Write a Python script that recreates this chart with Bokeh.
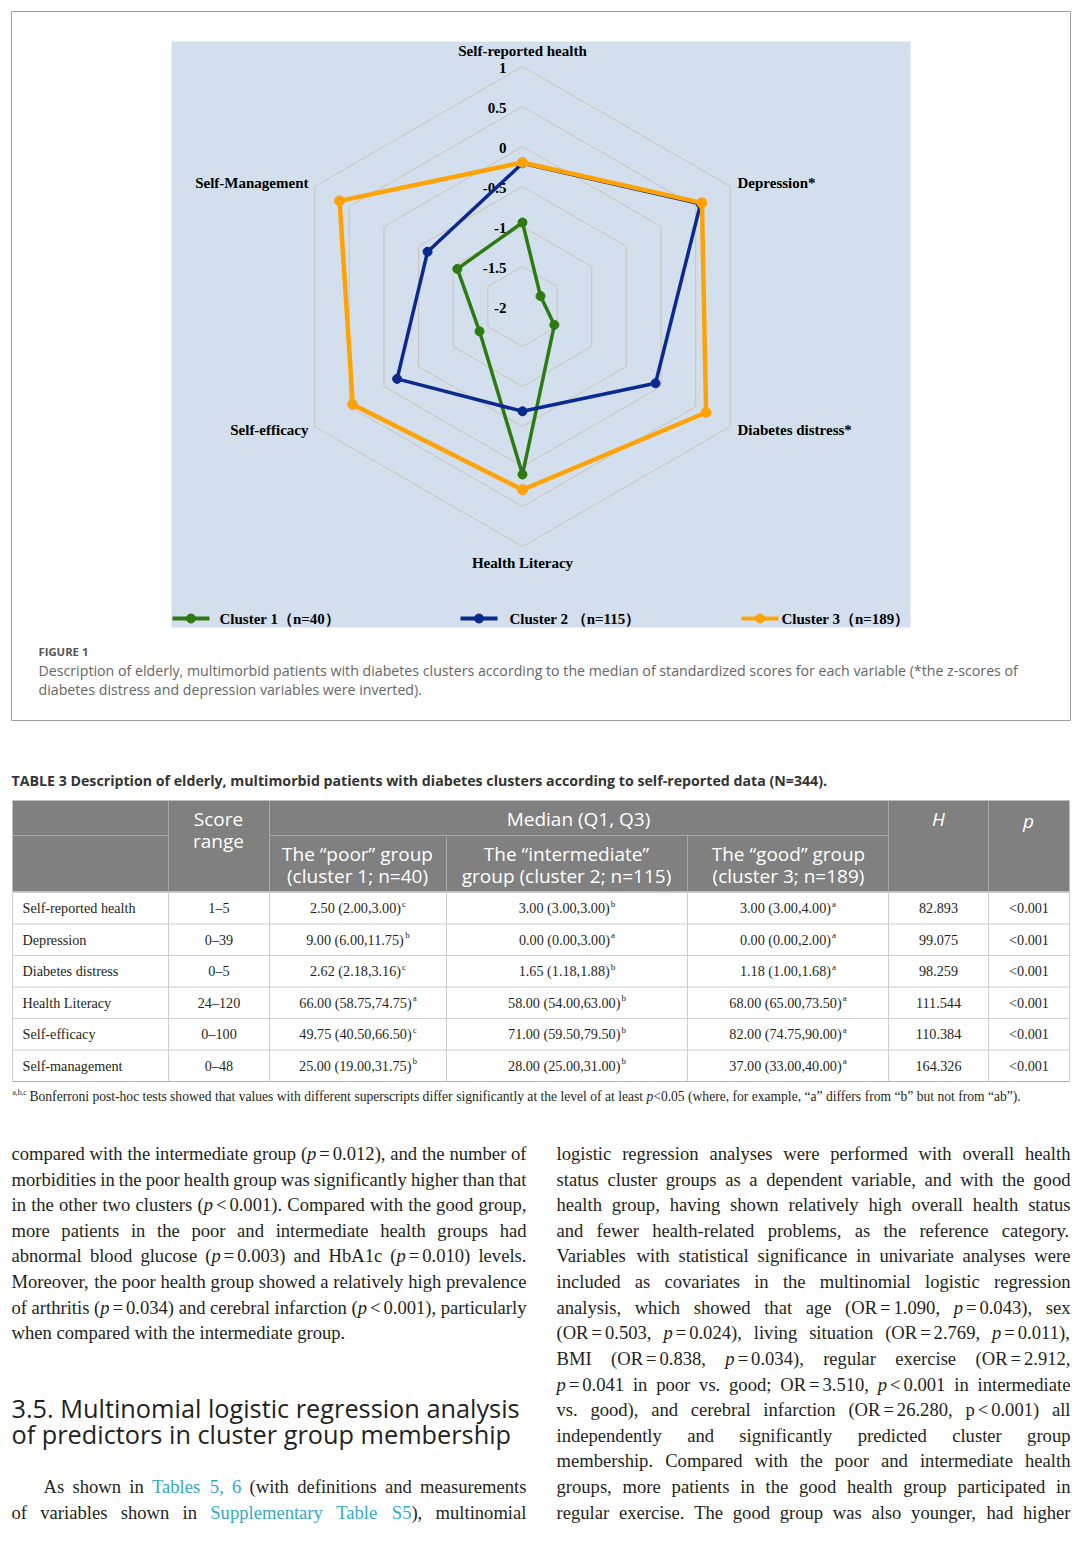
import math
from bokeh.plotting import figure
from bokeh.models import Range1d
from bokeh.embed import file_html
from bokeh.resources import INLINE
from bokeh.core.properties import value

# ---------------- chart data ----------------
axis_names = ["Self-reported health", "Depression*", "Diabetes distress*",
              "Health Literacy", "Self-efficacy", "Self-Management"]
grid_levels = [1, 0.5, 0, -0.5, -1, -1.5]
tick_values = [1, 0.5, 0, -0.5, -1, -1.5, -2]
tick_labels = ["1", "0.5", "0", "-0.5", "-1", "-1.5", "-2"]
axis_min = -2
cluster1 = [-0.95, -1.74, -1.54, 0.10, -1.38, -1.06]
cluster2 = [-0.21, 0.57, -0.08, -0.69, -0.19, -0.63]
cluster3 = [-0.20, 0.59, 0.65, 0.29, 0.45, 0.64]
cluster_names = ["Cluster 1（n=40）", "Cluster 2 （n=115）", "Cluster 3（n=189）"]
cluster_colors = ["#2E7A12", "#0B2A8E", "#FFA305"]

# ---------------- table data ----------------
row_names = ["Self-reported health", "Depression", "Diabetes distress",
             "Health Literacy", "Self-efficacy", "Self-management"]
score_range = ["1–5", "0–39", "0–5", "24–120", "0–100", "0–48"]
poor_median = ["2.50 (2.00,3.00)", "9.00 (6.00,11.75)", "2.62 (2.18,3.16)",
               "66.00 (58.75,74.75)", "49.75 (40.50,66.50)", "25.00 (19.00,31.75)"]
poor_sup = ["c", "b", "c", "a", "c", "b"]
inter_median = ["3.00 (3.00,3.00)", "0.00 (0.00,3.00)", "1.65 (1.18,1.88)",
                "58.00 (54.00,63.00)", "71.00 (59.50,79.50)", "28.00 (25.00,31.00)"]
inter_sup = ["b", "a", "b", "b", "b", "b"]
good_median = ["3.00 (3.00,4.00)", "0.00 (0.00,2.00)", "1.18 (1.00,1.68)",
               "68.00 (65.00,73.50)", "82.00 (74.75,90.00)", "37.00 (33.00,40.00)"]
good_sup = ["a", "a", "a", "a", "a", "a"]
h_stat = ["82.893", "99.075", "98.259", "111.544", "110.384", "164.326"]
p_val = ["<0.001", "<0.001", "<0.001", "<0.001", "<0.001", "<0.001"]

# ---------------- page text ----------------
fig_label = "FIGURE 1"
caption = ["Description of elderly, multimorbid patients with diabetes clusters according to the median of standardized scores for each variable (*the z-scores of",
           "diabetes distress and depression variables were inverted)."]
table_title = "TABLE 3  Description of elderly, multimorbid patients with diabetes clusters according to self-reported data (N=344)."
footnote = "Bonferroni post-hoc tests showed that values with different superscripts differ significantly at the level of at least _p_<0.05 (where, for example, “a” differs from “b” but not from “ab”)."
left_col = [
    "compared with the intermediate group (_p_~=~0.012), and the number of",
    "morbidities in the poor health group was significantly higher than that",
    "in the other two clusters (_p_~<~0.001). Compared with the good group,",
    "more patients in the poor and intermediate health groups had",
    "abnormal blood glucose (_p_~=~0.003) and HbA1c (_p_~=~0.010) levels.",
    "Moreover, the poor health group showed a relatively high prevalence",
    "of arthritis (_p_~=~0.034) and cerebral infarction (_p_~<~0.001), particularly",
    "when compared with the intermediate group.",
]
heading = ["3.5. Multinomial logistic regression analysis",
           "of predictors in cluster group membership"]
para2 = ["As shown in #Tables 5, 6# (with definitions and measurements",
         "of variables shown in #Supplementary Table S5#), multinomial"]
right_col = [
    "logistic regression analyses were performed with overall health",
    "status cluster groups as a dependent variable, and with the good",
    "health group, having shown relatively high overall health status",
    "and fewer health-related problems, as the reference category.",
    "Variables with statistical significance in univariate analyses were",
    "included as covariates in the multinomial logistic regression",
    "analysis, which showed that age (OR~=~1.090, _p_~=~0.043), sex",
    "(OR~=~0.503, _p_~=~0.024), living situation (OR~=~2.769, _p_~=~0.011),",
    "BMI (OR~=~0.838, _p_~=~0.034), regular exercise (OR~=~2.912,",
    "_p_~=~0.041 in poor vs. good; OR~=~3.510, _p_~<~0.001 in intermediate",
    "vs. good), and cerebral infarction (OR~=~26.280, p~<~0.001) all",
    "independently and significantly predicted cluster group",
    "membership. Compared with the poor and intermediate health",
    "groups, more patients in the good health group participated in",
    "regular exercise. The good group was also younger, had higher",
]

# ---------------- Times metrics (Liberation Serif compatible) ----------------
_W = {' ': 250, '!': 333, '"': 408, '(': 333, ')': 333, '*': 500, '+': 564, ',': 250,
      '-': 333, '.': 250, '/': 278, ':': 278, ';': 278, '<': 564, '=': 564, '>': 564,
      '?': 444, '“': 444, '”': 444, '–': 500, "'": 180, '~': 160}
for c in "0123456789":
    _W[c] = 500
_W.update(dict(A=722, B=667, C=667, D=722, E=611, F=556, G=722, H=722, I=333, J=389, K=722,
               L=611, M=889, N=722, O=722, P=556, Q=722, R=667, S=556, T=611, U=722, V=722,
               W=944, X=722, Y=722, Z=611))
_W.update(dict(a=444, b=500, c=444, d=500, e=444, f=333, g=500, h=500, i=278, j=278, k=500,
               l=278, m=778, n=500, o=500, p=500, q=500, r=333, s=389, t=278, u=500, v=500,
               w=722, x=500, y=500, z=444))


def tw(s, size):
    return sum(_W.get(ch, 500) for ch in s) / 1000.0 * size


# ---------------- figure / page coordinates ----------------
W, H = 1075, 1542
CX, CY, U = 522.0, 306.0, 80.0   # radar centre (page px) and px per z unit


def X(v):
    return (v - CX) / U


def Y(v):
    return (CY - v) / U


p = figure(width=W, height=H, x_range=Range1d(X(0), X(W)),
           y_range=Range1d(Y(H), Y(0)), output_backend="svg",
           toolbar_location=None, min_border=0,
           x_axis_location=None, y_axis_location=None)
p.grid.visible = False
p.outline_line_color = None
p.background_fill_color = "white"
p.border_fill_color = "white"

SERIF = "Liberation Serif"
SANS = "Open Sans"
TXT = "#231F20"
LINK = "#37A9C3"


def txt(x, y, s, size, font=SERIF, style="normal", color=TXT, align="left"):
    p.text(x=[X(x)], y=[Y(y)], text=[s], text_font=value(font),
           text_font_size=value(f"{size}px"), text_font_style=style,
           text_color=color, text_align=align, text_baseline="middle")


def seg(x0, y0, x1, y1, color, w=1):
    p.segment(x0=[X(x0)], y0=[Y(y0)], x1=[X(x1)], y1=[Y(y1)], line_color=color, line_width=w)


# figure box and plot area
p.quad(left=[X(11)], right=[X(1070)], top=[Y(11)], bottom=[Y(720)],
       fill_color=None, line_color="#A0A0A0", line_width=1)
p.quad(left=[X(171)], right=[X(910)], top=[Y(41)], bottom=[Y(627)],
       fill_color="#D3DFEC", line_color=None)

# ---------------- radar ----------------
ang = [math.radians(90 - 60 * i) for i in range(6)]
for lvl in grid_levels:
    r = lvl - axis_min
    xs = [r * math.cos(a) for a in ang]
    ys = [r * math.sin(a) for a in ang]
    p.line(xs + xs[:1], ys + ys[:1], line_color="#CCC3B6", line_width=1)

p.text(x=[-16 / U] * len(tick_values), y=[t - axis_min for t in tick_values], text=tick_labels,
       text_font=value(SERIF), text_font_size=value("15px"), text_font_style="bold",
       text_color="black", text_align="right", text_baseline="middle", y_offset=1)

label_pos = [(522, 50, "center"), (737, 182, "left"), (737, 429, "left"),
             (522, 562, "center"), (308, 429, "right"), (308, 182, "right")]
for name, (lx, ly, al) in zip(axis_names, label_pos):
    txt(lx, ly, name, 15, style="bold", color="black", align=al)

for vals, col, lw, ms in zip([cluster1, cluster2, cluster3], cluster_colors, [3.5, 3.5, 4.5], [9, 9, 10]):
    rs = [v - axis_min for v in vals]
    xs = [r * math.cos(a) for r, a in zip(rs, ang)]
    ys = [r * math.sin(a) for r, a in zip(rs, ang)]
    p.line(xs + xs[:1], ys + ys[:1], line_color=col, line_width=lw)
    p.scatter(xs, ys, size=ms, fill_color=col, line_color=col)

# legend
for name, col, lx0, tx in zip(cluster_names, cluster_colors, [172, 460, 741], [219, 509, 781]):
    p.line([X(lx0), X(lx0 + 37)], [Y(618), Y(618)], line_color=col, line_width=4)
    p.scatter([X(lx0 + 18.5)], [Y(618)], size=9, fill_color=col, line_color=col)
    txt(tx, 618, name, 15, style="bold", color="black")

# caption
txt(38, 651, fig_label, 11.3, font=SANS, style="bold", color="#555555")
txt(38, 670, caption[0], 14.2, font=SANS, color="#666666")
txt(38, 689, caption[1], 14.2, font=SANS, color="#666666")

# ---------------- table ----------------
txt(11, 780, table_title, 14.2, font=SANS, style="bold", color="#333333")
p.quad(left=[X(12)], right=[X(1069)], top=[Y(800)], bottom=[Y(891)],
       fill_color="#808080", line_color=None)
HL = "#A9A9A9"
seg(12, 835, 168, 835, HL)
seg(269, 835, 888, 835, HL)
for xv in [168, 269, 888, 988]:
    seg(xv, 800, xv, 891, HL)
for xv in [446, 687]:
    seg(xv, 835, xv, 891, HL)

hs = 19
txt(218, 818, "Score", hs, font=SANS, color="white", align="center")
txt(218, 840, "range", hs, font=SANS, color="white", align="center")
txt(578, 818, "Median (Q1, Q3)", hs, font=SANS, color="white", align="center")
txt(938, 818, "H", hs, font=SANS, style="italic", color="white", align="center")
txt(1028, 820, "p", hs, font=SANS, style="italic", color="white", align="center")
for cx_, l1, l2 in [(357, "The “poor” group", "(cluster 1; n=40)"),
                    (566, "The “intermediate”", "group (cluster 2; n=115)"),
                    (788, "The “good” group", "(cluster 3; n=189)")]:
    txt(cx_, 853, l1, hs, font=SANS, color="white", align="center")
    txt(cx_, 875, l2, hs, font=SANS, color="white", align="center")

row_top = 892.0
row_h = 31.5
BL = "#CDCDCD"
nrows = len(row_names)
for i in range(nrows + 1):
    yy = row_top + i * row_h
    seg(12, yy, 1069, yy, BL if i < nrows else "#B0B0B0")
for xv in [12, 168, 269, 446, 687, 888, 988, 1069]:
    seg(xv, row_top, xv, row_top + nrows * row_h, BL)

ts = 14.2
sups = 9
for i in range(nrows):
    yc = row_top + (i + 0.5) * row_h
    txt(22, yc, row_names[i], ts)
    txt(218.5, yc, score_range[i], ts, align="center")
    for cx_, m, s in [(357.5, poor_median[i], poor_sup[i]),
                      (566.5, inter_median[i], inter_sup[i]),
                      (787.5, good_median[i], good_sup[i])]:
        wm = tw(m, ts)
        wsup = tw(s, sups)
        x0 = cx_ - (wm + 1 + wsup) / 2
        txt(x0, yc, m, ts)
        txt(x0 + wm + 1, yc - 4.5, s, sups)
    txt(938, yc, h_stat[i], ts, align="center")
    txt(1028.5, yc, p_val[i], ts, align="center")

# ---------------- running text ----------------
groups = {}


def add_seg(x, y, s, italic, color, size):
    key = (italic, color, size)
    g = groups.setdefault(key, {"x": [], "y": [], "text": []})
    g["x"].append(X(x))
    g["y"].append(Y(y))
    g["text"].append(s)


def parse_line(line):
    words = []
    ital = False
    link = False
    for w in line.split(" "):
        segs = []
        cur = ""
        for ch in w:
            if ch in "_#~":
                if cur:
                    segs.append((cur, ital, link))
                    cur = ""
                if ch == "_":
                    ital = not ital
                elif ch == "#":
                    link = not link
                else:
                    segs.append(("~", ital, link))
            else:
                cur += ch
        if cur:
            segs.append((cur, ital, link))
        words.append(segs)
    return words


def render_line(line, x0, x1, yc, size, justify=True, color=TXT):
    words = parse_line(line)
    n = len(words)
    em = sum(sum(tw(s, 1) for s, _, _ in w) for w in words)
    min_em = em + 0.2 * (n - 1)
    if justify and min_em * size > (x1 - x0):
        size = round((x1 - x0) / min_em, 2)
    widths = [sum(tw(s, size) for s, _, _ in w) for w in words]
    total = sum(widths)
    if justify and n > 1:
        gap = (x1 - x0 - total) / (n - 1)
    else:
        gap = 0.25 * size
    x = x0
    for w in words:
        for s, it, lk in w:
            if s != "~":
                add_seg(x, yc, s, it, LINK if lk else color, size)
            x += tw(s, size)
        x += gap


# footnote
txt(12, 1092, "a,b,c", 7.5)
fn_words = parse_line(footnote)
fn_em = sum(sum(tw(s, 1) for s, _, _ in w) for w in fn_words) + 0.25 * (len(fn_words) - 1)
render_line(footnote, 29, 1020, 1096, round(991 / fn_em, 2), justify=False)

BS = 18.6
LH = 25.62
for i, line in enumerate(left_col):
    render_line(line, 11, 526, 1153 + i * LH, BS, justify=(i < len(left_col) - 1))
for i, line in enumerate(right_col):
    render_line(line, 556, 1070, 1153 + i * LH, BS, justify=True)
render_line(para2[0], 43, 526, 1486, BS, justify=True)
render_line(para2[1], 11, 526, 1512, BS, justify=True)

for (it, color, size), g in groups.items():
    p.text(x=g["x"], y=g["y"], text=g["text"], text_font=value(SERIF),
           text_font_size=value(f"{size}px"), text_font_style="italic" if it else "normal",
           text_color=color, text_align="left", text_baseline="middle")

txt(11, 1407, heading[0], 25.3, font=SANS, color=TXT)
txt(11, 1433, heading[1], 25.3, font=SANS, color=TXT)

open("out.html", "w").write(file_html(p, INLINE))
